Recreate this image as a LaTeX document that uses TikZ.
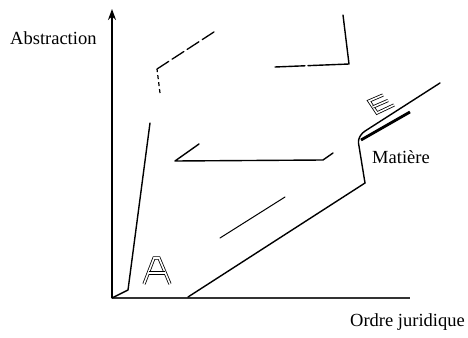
\documentclass[tikz,border=0pt]{standalone}
\usepackage{fontspec}
\setmainfont{Liberation Serif}
\usetikzlibrary{arrows.meta}
\begin{document}
\begin{tikzpicture}[x=1pt,y=-1pt,
  lbl/.style={font=\fontsize{18.5}{22}\selectfont, inner sep=0pt},
  axis/.style={line width=2.6pt},
  haxis/.style={line width=1.4pt, black!80},
  ln/.style={line width=1.4pt, line join=round, line cap=round},
  thin/.style={line width=1pt, line cap=round},
  broken/.style={line width=1.3pt, dash pattern=on 14pt off 4pt, line cap=round},
  hollow/.style={line width=0.8pt, double=white, double distance=1.6pt, line join=miter}]
\useasboundingbox (0,0) rectangle (468,337);
% axes
\coordinate (O) at (112,298);
\coordinate (Ytop) at (112,9);
\coordinate (Xend) at (410,298);
\draw[axis,-{Stealth[length=11pt,width=8pt]}] (O) -- (Ytop);
\draw[haxis] (O) -- (Xend);
% labels
\node[lbl, anchor=base west] (abs) at (10,45) {Abstraction};
\node[lbl, anchor=base west] (ord) at (350,326) {Ordre juridique};
\node[lbl, anchor=base west] (mat) at (372,163) {Matière};
% left rising line with foot
\coordinate (f1) at (128,290);
\coordinate (f2) at (150,123);
\draw[ln] (O) -- (f1) -- (f2);
% top-left broken path
\coordinate (t0) at (160,93);
\coordinate (t1) at (157,69);
\coordinate (t2) at (217,30);
\draw[line width=1.2pt, dash pattern=on 4pt off 3pt] (t0) -- (t1);
\draw[broken] (t1) -- (t2);
% top-right path
\coordinate (r0) at (275,67);
\coordinate (r1) at (349,64);
\coordinate (r2) at (343,15);
\draw[ln, dash pattern=on 30pt off 3pt on 200pt] (r0) -- (r1) -- (r2);
% middle path
\coordinate (m0) at (199,144);
\coordinate (m1) at (175,161);
\coordinate (m2) at (323,160);
\coordinate (m3) at (333,153);
\draw[ln] (m0) -- (m1) -- (m2) -- (m3);
% short thin diagonal
\coordinate (d0) at (220,238);
\coordinate (d1) at (285,197);
\draw[thin] (d0) -- (d1);
% big lower path
\coordinate (b0) at (188,297);
\coordinate (b1) at (365,183);
\coordinate (b3) at (440,83);
\draw[ln] (b0) -- (b1);
\draw[ln, rounded corners=3pt] (b1) -- (358,140) -- (362,133) -- (b3);
% thick parallel line
\coordinate (k0) at (361,140);
\coordinate (k1) at (410,112);
\draw[line width=2.8pt] (k0) -- (k1);
% hollow A
\draw[hollow] (144,284) -- (154,258) -- (159,258) -- (170,284);
\draw[hollow] (149,273) -- (165,273);
% hollow E (tilted)
\draw[hollow] (383,95) -- (369,101) -- (377,113) -- (394,105);
\draw[hollow] (373,107) -- (388,100.5);
\end{tikzpicture}
\end{document}
